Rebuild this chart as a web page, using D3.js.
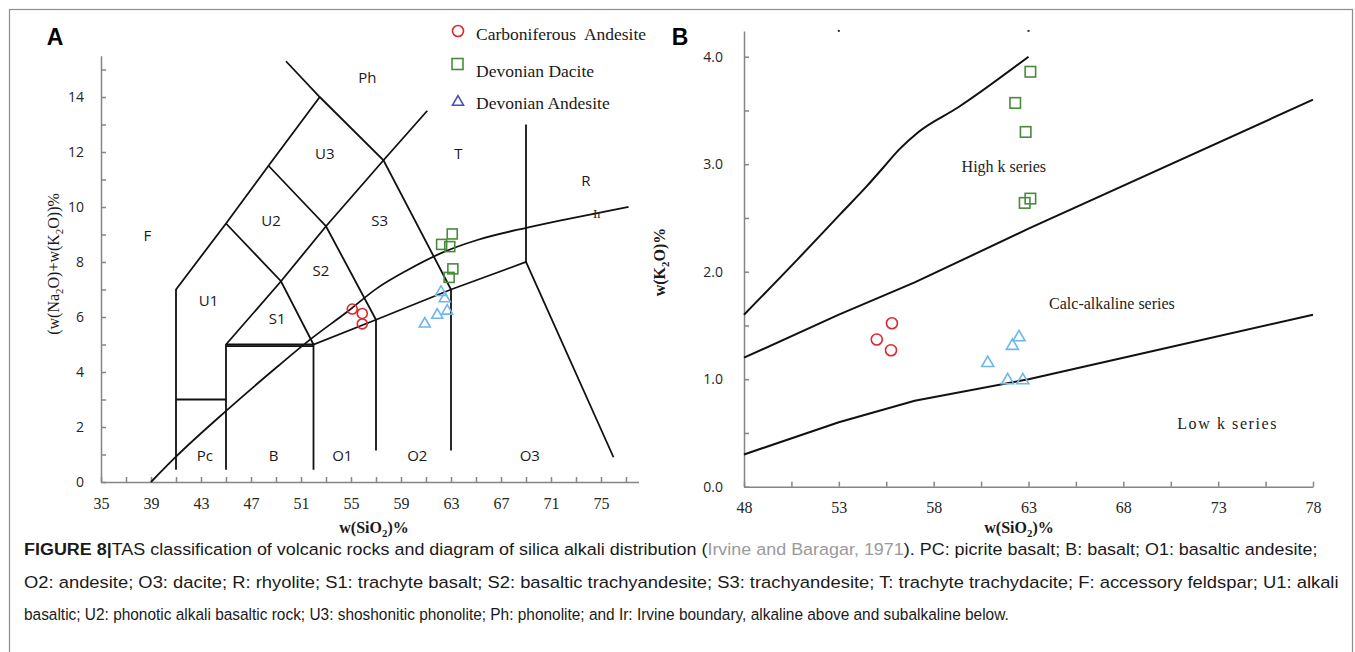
<!DOCTYPE html>
<html>
<head>
<meta charset="utf-8">
<script src="https://cdn.jsdelivr.net/npm/d3@7"></script>
<style>
  body { margin: 0; background: #fff; }
</style>
</head>
<body>
<div id="chart"></div>
<script>
// ---- panel A : TAS diagram ----
const tasXTicks = d3.range(35, 78, 2);
const tasXLabels = d3.range(35, 76, 4);
const tasYTicks = d3.range(0, 16, 1);
const tasYLabels = d3.range(0, 15, 2);

// field boundaries, [SiO2, Na2O+K2O]
const tasBoundaries = [
  [[41, 0.45], [41, 7], [45, 9.4], [48.4, 11.5], [52.5, 14]],
  [[49.8, 15.3], [52.5, 14], [57.6, 11.7], [63, 7], [63, 1.15]],
  [[45, 0.45], [45, 5], [49.4, 7.3], [53, 9.3], [57.6, 11.7], [61.1, 13.5]],
  [[45, 9.4], [49.4, 7.3], [52, 5], [52, 0.45]],
  [[48.4, 11.5], [53, 9.3], [57, 5.9], [57, 1.15]],
  [[45, 5], [52, 5], [57, 5.9], [63, 7], [69, 8], [76, 0.9]],
  [[45, 4.94], [52, 4.94]],
  [[69, 8], [69, 13]],
  [[41, 3], [45, 3]]
];
const irvineCurve = [
  [39, 0], [41, 0.92], [45.1, 2.62], [49.1, 4.19], [51.9, 5.24], [54.7, 6.19],
  [57.1, 7.05], [59.5, 7.7], [62.3, 8.34], [65.1, 8.8], [69.1, 9.25], [72, 9.53], [77.2, 10.0]
];
const tasFields = ["Ph", "U3", "T", "R", "U2", "S3", "F", "S2", "U1", "S1", "Pc", "B", "O1", "O2", "O3"];
const tasFieldX = [56.3, 52.9, 63.6, 73.8, 48.6, 57.3, 38.7, 52.6, 43.6, 49.1, 43.3, 48.8, 54.3, 60.3, 69.3];
const tasFieldY = [14.7, 11.95, 11.93, 10.95, 9.5, 9.5, 8.97, 7.7, 6.6, 5.95, 0.97, 0.97, 0.97, 0.97, 0.97];

const carbA = [[55.1, 6.29], [55.9, 6.13], [55.9, 5.75]];
const dacA = [[63.1, 9.02], [62.25, 8.64], [62.9, 8.56], [63.15, 7.75], [62.85, 7.44]];
const andA = [[62.2, 6.9], [62.5, 6.67], [62.7, 6.22], [61.9, 6.07], [60.9, 5.75]];

// ---- panel B : K2O vs SiO2 ----
const kXTicks = d3.range(48, 78.1, 2.5);
const kXLabels = [48, 53, 58, 63, 68, 73, 78];
const kYTicks = d3.range(0, 4.01, 0.5);
const kYLabels = [0, 1, 2, 3, 4];

const shoshLine = [[48, 1.6], [50.8, 2.11], [53.1, 2.54], [54.5, 2.8], [55.3, 2.96], [56.2, 3.14], [57.2, 3.3], [59.3, 3.53], [63, 4.0]];
const highKLine = [[48, 1.2], [53, 1.6], [57, 1.9], [63, 2.4], [78, 3.6]];
const lowKLine = [[48, 0.3], [53, 0.6], [57, 0.8], [63, 1.0], [68, 1.2], [78, 1.6]];
const kSeries = ["High k series", "Calc-alkaline series", "Low k series"];
const kSeriesX = [61.7, 67.4, 73.5];
const kSeriesY = [2.98, 1.70, 0.59];
const kTopMarks = [53, 63];

const carbB = [[55.8, 1.52], [55.0, 1.37], [55.75, 1.27]];
const dacB = [[63.1, 3.86], [62.3, 3.57], [62.85, 3.30], [63.1, 2.68], [62.8, 2.64]];
const andB = [[62.5, 1.39], [62.15, 1.31], [60.85, 1.15], [61.9, 0.99], [62.7, 0.99]];

const legendNames = ["Carboniferous\u00a0 Andesite", "Devonian Dacite", "Devonian Andesite"];

const captionLines = [
  [["FIGURE 8", "b"], ["|", "b"], ["TAS classification of volcanic rocks and diagram of silica alkali distribution (", ""],
   ["Irvine and Baragar, 1971", "c"], ["). PC: picrite basalt; B: basalt; O1: basaltic andesite;", ""]],
  [["O2: andesite; O3: dacite; R: rhyolite; S1: trachyte basalt; S2: basaltic trachyandesite; S3: trachyandesite; T: trachyte trachydacite; F: accessory feldspar; U1: alkali", ""]],
  [["basaltic; U2: phonotic alkali basaltic rock; U3: shoshonitic phonolite; Ph: phonolite; and Ir: Irvine boundary, alkaline above and subalkaline below.", ""]]
];

const RED = "#e0262a", GREEN = "#4a8a3c", BLUE = "#6db6ee", LEGBLUE = "#4b4bb8";
const SERIF = "'Liberation Serif', 'Times New Roman', serif";
const SANS = "'Open Sans', 'Liberation Sans', sans-serif";

const svg = d3.select("#chart").append("svg")
  .attr("width", 1355).attr("height", 652);

svg.append("rect")
  .attr("x", 9.5).attr("y", 9.5).attr("width", 1343).attr("height", 700)
  .attr("fill", "none").attr("stroke", "#8c8c8c").attr("stroke-width", 1.2);

const xA = d3.scaleLinear().domain([35, 78]).range([101, 638.5]);
const yA = d3.scaleLinear().domain([0, 15.5]).range([482, 55.75]);
const xB = d3.scaleLinear().domain([48, 78]).range([744, 1313]);
const yB = d3.scaleLinear().domain([0, 4.24]).range([486.7, 30.9]);

function styleAxis(g, font, size) {
  g.selectAll("path, line").attr("stroke", "#858585").attr("stroke-width", 1.5);
  g.selectAll("text").attr("font-family", font).attr("font-size", size).attr("fill", "#262626");
}

// axes A
svg.append("g").attr("transform", `translate(0,${yA(0)})`)
  .call(d3.axisBottom(xA).tickValues(tasXTicks).tickSizeInner(-5).tickSizeOuter(0).tickPadding(16)
    .tickFormat(d => tasXLabels.includes(d) ? d : ""))
  .call(g => styleAxis(g, SERIF, 16));
svg.append("g").attr("transform", `translate(${xA(35)},0)`)
  .call(d3.axisLeft(yA).tickValues(tasYTicks).tickSizeInner(-5).tickSizeOuter(0).tickPadding(17)
    .tickFormat(d => tasYLabels.includes(d) ? d : ""))
  .call(g => styleAxis(g, SANS, 14));

// axes B
svg.append("g").attr("transform", `translate(0,${yB(0)})`)
  .call(d3.axisBottom(xB).tickValues(kXTicks).tickSizeInner(-5).tickSizeOuter(0).tickPadding(15)
    .tickFormat(d => kXLabels.includes(d) ? d : ""))
  .call(g => styleAxis(g, SERIF, 16));
svg.append("g").attr("transform", `translate(${xB(48)},0)`)
  .call(d3.axisLeft(yB).tickValues(kYTicks).tickSizeInner(-5).tickSizeOuter(0).tickPadding(21)
    .tickFormat(d => kYLabels.includes(d) ? d3.format(".1f")(d) : ""))
  .call(g => styleAxis(g, SANS, 14));

// boundary lines
const lineA = d3.line().x(d => xA(d[0])).y(d => yA(d[1]));
const lineB = d3.line().x(d => xB(d[0])).y(d => yB(d[1]));

svg.append("g").selectAll("path").data(tasBoundaries).join("path")
  .attr("d", lineA).attr("fill", "none").attr("stroke", "#111").attr("stroke-width", 1.8);
svg.append("path").datum(irvineCurve)
  .attr("d", lineA.curve(d3.curveMonotoneX)).attr("fill", "none").attr("stroke", "#111").attr("stroke-width", 1.8);

svg.append("g").selectAll("path").data([highKLine, lowKLine]).join("path")
  .attr("d", lineB).attr("fill", "none").attr("stroke", "#111").attr("stroke-width", 2);
svg.append("path").datum(shoshLine)
  .attr("d", lineB.curve(d3.curveMonotoneX)).attr("fill", "none").attr("stroke", "#111").attr("stroke-width", 2);

svg.append("g").selectAll("rect").data(kTopMarks).join("rect")
  .attr("x", d => xB(d) - 1).attr("y", yB(4.24) - 1).attr("width", 2).attr("height", 2).attr("fill", "#333");

// field labels
svg.append("g").selectAll("text").data(tasFields).join("text")
  .attr("x", (d, i) => xA(tasFieldX[i])).attr("y", (d, i) => yA(tasFieldY[i]))
  .attr("dy", "0.36em").attr("text-anchor", "middle")
  .attr("font-family", SANS).attr("font-size", 15).attr("fill", "#1a1a1a")
  .text(d => d);
svg.append("text").attr("x", xA(74.7)).attr("y", yA(9.75)).attr("dy", "0.35em")
  .attr("text-anchor", "middle").attr("font-family", SERIF).attr("font-size", 13).attr("fill", "#222")
  .text("Ir");

svg.append("g").selectAll("text").data(kSeries).join("text")
  .attr("x", (d, i) => xB(kSeriesX[i])).attr("y", (d, i) => yB(kSeriesY[i]))
  .attr("dy", "0.33em").attr("text-anchor", "middle")
  .attr("font-family", SERIF).attr("font-size", 16).attr("fill", "#222")
  .attr("letter-spacing", (d, i) => i === 2 ? 1.6 : 0)
  .text(d => d);

// markers
function drawPoints(data, x, y, kind, color, s) {
  const g = svg.append("g").attr("fill", "none").attr("stroke", color).attr("stroke-width", 1.6);
  if (kind === "circle") {
    g.selectAll("circle").data(data).join("circle")
      .attr("cx", d => x(d[0])).attr("cy", d => y(d[1])).attr("r", s / 2);
  } else if (kind === "square") {
    g.selectAll("rect").data(data).join("rect")
      .attr("x", d => x(d[0]) - s / 2).attr("y", d => y(d[1]) - s / 2).attr("width", s).attr("height", s);
  } else {
    g.selectAll("path").data(data).join("path")
      .attr("transform", d => `translate(${x(d[0])},${y(d[1])})`)
      .attr("d", d3.symbol(d3.symbolTriangle, s * s * Math.sqrt(3) / 4));
  }
}
drawPoints(carbA, xA, yA, "circle", RED, 10);
drawPoints(dacA, xA, yA, "square", GREEN, 10);
drawPoints(andA, xA, yA, "triangle", BLUE, 11);
drawPoints(carbB, xB, yB, "circle", RED, 11);
drawPoints(dacB, xB, yB, "square", GREEN, 10.5);
drawPoints(andB, xB, yB, "triangle", BLUE, 12);

// legend
const legY = [31, 64, 102];
const legText = [40, 77, 109];
const leg = svg.append("g");
leg.append("circle").attr("cx", 458).attr("cy", legY[0]).attr("r", 5.5)
  .attr("fill", "none").attr("stroke", RED).attr("stroke-width", 1.6);
leg.append("rect").attr("x", 452).attr("y", legY[1] - 5.5).attr("width", 11).attr("height", 11)
  .attr("fill", "none").attr("stroke", GREEN).attr("stroke-width", 1.6);
leg.append("path").attr("transform", `translate(458,${legY[2]})`)
  .attr("d", d3.symbol(d3.symbolTriangle, 121 * Math.sqrt(3) / 4))
  .attr("fill", "none").attr("stroke", LEGBLUE).attr("stroke-width", 1.6);
leg.selectAll("text").data(legendNames).join("text")
  .attr("x", 476).attr("y", (d, i) => legText[i])
  .attr("font-family", SERIF).attr("font-size", 17.5).attr("fill", "#1a1a1a")
  .text(d => d);

// panel letters
svg.append("text").attr("x", 55).attr("y", 45).attr("text-anchor", "middle")
  .attr("font-family", "'Liberation Sans', Arial, sans-serif").attr("font-weight", "bold").attr("font-size", 23).text("A");
svg.append("text").attr("x", 680).attr("y", 45).attr("text-anchor", "middle")
  .attr("font-family", "'Liberation Sans', Arial, sans-serif").attr("font-weight", "bold").attr("font-size", 23).text("B");

// axis titles
function subTitle(x, y, parts, bold, rotate, size) {
  const t = svg.append("text")
    .attr("transform", `translate(${x},${y})` + (rotate ? " rotate(-90)" : ""))
    .attr("text-anchor", "middle").attr("font-family", SERIF).attr("font-size", size)
    .attr("font-weight", bold ? "bold" : "normal").attr("fill", "#1a1a1a");
  let down = false;
  parts.forEach(p => {
    const sub = p.startsWith("_");
    const sp = t.append("tspan").text(sub ? p.slice(1) : p);
    if (sub) { sp.attr("font-size", size * 0.68).attr("dy", 4); down = true; }
    else if (down) { sp.attr("dy", -4); down = false; }
  });
}
subTitle(374, 533, ["w(SiO", "_2", ")%"], true, false, 16);
subTitle(1019, 533, ["w(SiO", "_2", ")%"], true, false, 16);
subTitle(59, 264, ["(w(Na", "_2", "O)+w(K", "_2", "O))%"], false, true, 16);
subTitle(665, 262, ["w(K", "_2", "O)%"], true, true, 16);

// caption, each line squeezed to its width in the figure
const capBase = [555, 588, 620];
const capRight = [1318, 1340, 1010];
captionLines.forEach((parts, i) => {
  const g = svg.append("g").attr("transform", `translate(24,${capBase[i]})`);
  const t = g.append("text").attr("x", 0).attr("y", 0)
    .attr("font-family", "'Liberation Sans', Arial, sans-serif").attr("font-size", 17).attr("fill", "#1a1a1a");
  parts.forEach(p => {
    t.append("tspan").text(p[0])
      .attr("font-weight", p[1] === "b" ? "bold" : "normal")
      .attr("fill", p[1] === "c" ? "#9a9a9a" : "#1a1a1a");
  });
  const w = t.node().getComputedTextLength();
  g.attr("transform", `translate(24,${capBase[i]}) scale(${(capRight[i] - 24) / w},1)`);
});
</script>
</body>
</html>
